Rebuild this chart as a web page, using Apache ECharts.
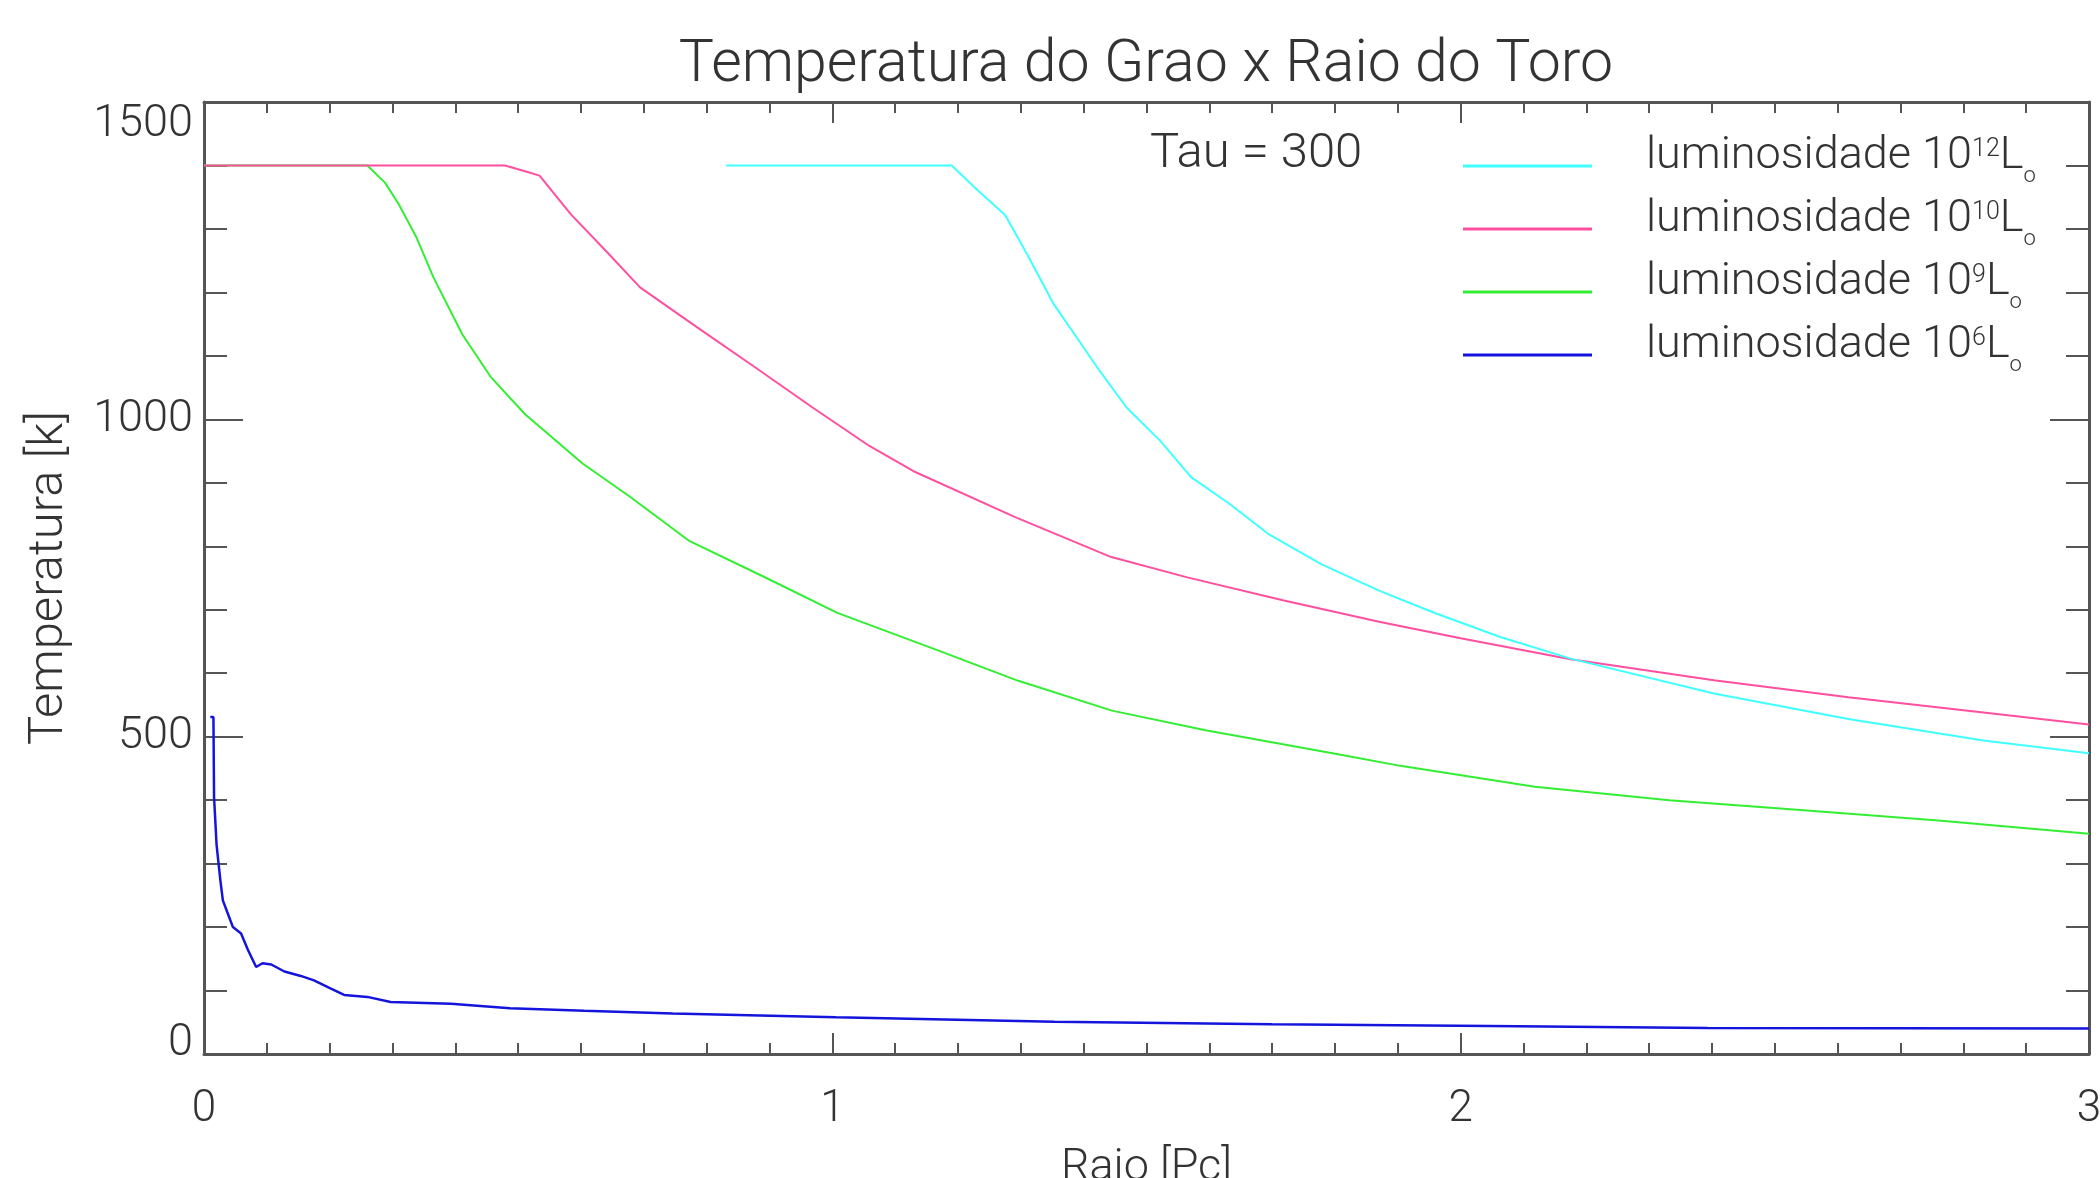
<!DOCTYPE html>
<html>
<head>
<meta charset="utf-8">
<script src="https://cdn.jsdelivr.net/npm/echarts@6/dist/echarts.min.js"></script>
<style>
html,body{margin:0;padding:0;background:#fff;}
#chart{width:2100px;height:1178px;}
</style>
</head>
<body>
<div id="chart"></div>
<script>
// ---- data (x = Raio [Pc], y = Temperatura [k]) ----
const raio12 = [0.831, 1.190, 1.230, 1.275, 1.310, 1.352, 1.389, 1.425, 1.468, 1.522, 1.571, 1.632, 1.693, 1.778, 1.870, 1.961, 2.063, 2.175, 2.403, 2.617, 2.832, 3.000];
const temp12 = [1400, 1400, 1362, 1322, 1260, 1182, 1129, 1077, 1019, 966, 909, 867, 820, 772, 730, 694, 657, 623, 568, 528, 494, 474];

const raio10 = [0.000, 0.479, 0.511, 0.534, 0.584, 0.639, 0.694, 0.785, 0.877, 0.968, 1.059, 1.132, 1.291, 1.444, 1.565, 1.717, 1.870, 2.000, 2.175, 2.403, 2.617, 2.832, 3.000];
const temp10 = [1400, 1400, 1391, 1384, 1323, 1266, 1208, 1145, 1082, 1019, 958, 917, 846, 783, 751, 715, 681, 655, 622, 589, 562, 538, 519];

const raio9 = [0.000, 0.260, 0.288, 0.310, 0.338, 0.365, 0.411, 0.457, 0.511, 0.603, 0.678, 0.773, 0.891, 1.008, 1.168, 1.296, 1.445, 1.594, 1.807, 1.904, 2.118, 2.332, 2.546, 2.760, 3.000];
const temp9 = [1400, 1400, 1373, 1339, 1287, 1224, 1134, 1066, 1008, 930, 878, 808, 752, 695, 636, 588, 541, 510, 472, 454, 421, 400, 384, 368, 347];

const raio6 = [0.010, 0.015, 0.016, 0.020, 0.022, 0.026, 0.030, 0.038, 0.046, 0.059, 0.070, 0.083, 0.093, 0.107, 0.128, 0.154, 0.175, 0.202, 0.223, 0.260, 0.297, 0.393, 0.487, 0.605, 0.746, 1.006, 1.353, 1.700, 2.046, 2.393, 3.000];
const temp6 = [531, 531, 405, 330, 311, 274, 242, 221, 200, 190, 164, 137, 143, 141, 130, 123, 116, 103, 93, 90, 82, 79, 72, 68, 64, 58, 51, 47, 44, 41, 40];

const seriesNames = ['luminosidade 10^12 Lo', 'luminosidade 10^10 Lo', 'luminosidade 10^9 Lo', 'luminosidade 10^6 Lo'];
const expoentes = ['12', '10', '9', '6'];
const cores = ['#40ffff', '#ff4fa0', '#33ee33', '#1414dd'];
const xTicks = [0, 1, 2, 3];
const yTicks = [0, 500, 1000, 1500];
const tituloTexto = 'Temperatura do Grao x Raio do Toro';
const tauTexto = 'Tau = 300';

function zip(xs, ys) { return xs.map((x, i) => [x, ys[i]]); }

const FONT = 'Roboto, "Liberation Sans", sans-serif';
const TXT = '#333';
const AX = '#555';

const chart = echarts.init(document.getElementById('chart'), null, {renderer: 'canvas'});

function axisX(pos, showLabel) {
  return {
    type: 'value', position: pos, min: xTicks[0], max: xTicks[xTicks.length - 1], interval: 1,
    name: showLabel ? 'Raio [Pc]' : '', nameLocation: 'middle', nameGap: 92,
    nameTextStyle: {fontFamily: FONT, fontWeight: 300, fontSize: 45, color: TXT},
    axisLine: {show: true, onZero: false, lineStyle: {color: AX, width: 3}},
    axisTick: {show: true, inside: true, length: 21, lineStyle: {color: AX, width: 2}},
    minorTick: {show: true, splitNumber: 10, length: 11, lineStyle: {color: AX, width: 2}},
    axisLabel: {show: showLabel, margin: 34, fontFamily: FONT, fontWeight: 300, fontSize: 44, color: TXT},
    splitLine: {show: false}, minorSplitLine: {show: false}
  };
}
function axisY(pos, showLabel) {
  return {
    type: 'value', position: pos, min: yTicks[0], max: yTicks[yTicks.length - 1], interval: 500,
    name: showLabel ? 'Temperatura [k]' : '', nameLocation: 'middle', nameGap: 130, nameRotate: 90,
    nameTextStyle: {fontFamily: FONT, fontWeight: 300, fontSize: 49, color: TXT},
    axisLine: {show: true, onZero: false, lineStyle: {color: AX, width: 3}},
    axisTick: {show: true, inside: true, length: 39, lineStyle: {color: AX, width: 2}},
    minorTick: {show: true, splitNumber: 5, length: 23, lineStyle: {color: AX, width: 2}},
    axisLabel: {show: showLabel, margin: 11, fontFamily: FONT, fontWeight: 300, fontSize: 45, color: TXT,
      verticalAlignMaxLabel: 'top',
      formatter: v => (v === 0 ? '{z|0}' : String(v)),
      rich: {z: {fontFamily: FONT, fontWeight: 300, fontSize: 45, color: TXT, padding: [0, 0, 20, 0]}}},
    splitLine: {show: false}, minorSplitLine: {show: false}
  };
}

const dados = [zip(raio12, temp12), zip(raio10, temp10), zip(raio9, temp9), zip(raio6, temp6)];
const ordem = [3, 2, 1, 0];
const series = ordem.map(i => ({
  name: seriesNames[i], type: 'line', data: dados[i], showSymbol: false, symbol: 'none',
  xAxisIndex: 0, yAxisIndex: 0, color: cores[i],
  lineStyle: {color: cores[i], width: i === 3 ? 2.5 : 2}, emphasis: {disabled: true}
}));

const option = {
  backgroundColor: '#fff',
  animation: false,
  grid: {left: 204, right: 11, top: 102, bottom: 124, containLabel: false, outerBoundsMode: 'none'},
  xAxis: [axisX('bottom', true), axisX('top', false)],
  yAxis: [axisY('left', true), axisY('right', false)],
  legend: {
    data: seriesNames, orient: 'vertical', left: 1463, top: 127, padding: 0, itemGap: 3,
    icon: 'rect', itemWidth: 129, itemHeight: 3, selectedMode: false,
    formatter: name => {
      const i = seriesNames.indexOf(name);
      return '{gap| }{t|luminosidade 10}{sup|' + expoentes[i] + '}{t|L}{sub|o}';
    },
    textStyle: {
      color: TXT, fontFamily: FONT, fontWeight: 300, fontSize: 45, padding: [0, 0, 18, 0],
      rich: {
        gap: {width: 49, fontSize: 10, lineHeight: 10},
        t: {fontFamily: FONT, fontWeight: 300, fontSize: 45, lineHeight: 50, color: TXT},
        sup: {fontFamily: FONT, fontWeight: 300, fontSize: 25, lineHeight: 25, padding: [0, 0, 14, 0], color: TXT},
        sub: {fontFamily: FONT, fontWeight: 300, fontSize: 22, lineHeight: 22, padding: [38, 0, 0, 0], color: TXT}
      }
    }
  },
  graphic: [
    {type: 'text', x: 1146, y: 66, silent: true,
     style: {text: tituloTexto, align: 'center', verticalAlign: 'middle', fontFamily: FONT, fontWeight: 300, fontSize: 59, fill: TXT}},
    {type: 'text', x: 1150, y: 155, silent: true,
     style: {text: tauTexto, align: 'left', verticalAlign: 'middle', fontFamily: FONT, fontWeight: 300, fontSize: 49, fill: TXT}}
  ],
  series: series
};
chart.setOption(option);
</script>
</body>
</html>
